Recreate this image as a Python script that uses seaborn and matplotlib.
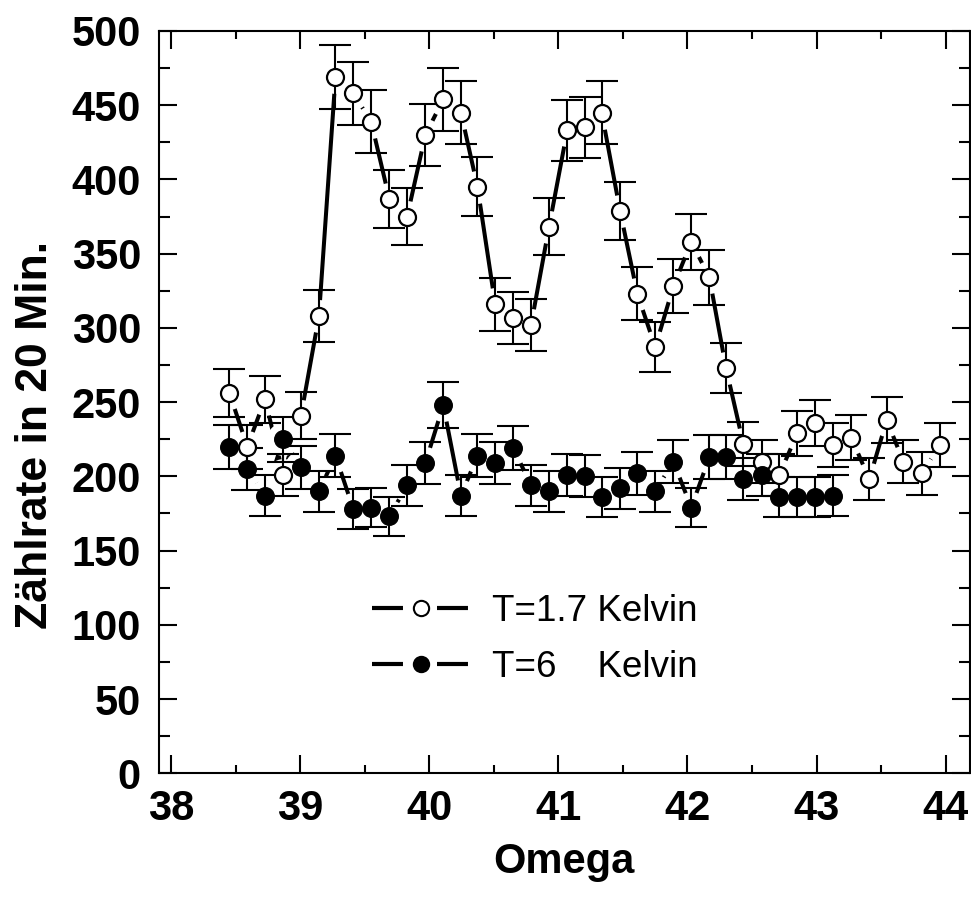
import numpy as np
import pandas as pd
import matplotlib
matplotlib.use("Agg")
import matplotlib.pyplot as plt
from matplotlib.lines import Line2D
from matplotlib.ticker import MultipleLocator
import seaborn as sns

# ---- data ----
omega = [38.453, 38.591, 38.728, 38.870, 39.007, 39.146, 39.274, 39.412, 39.550,
         39.691, 39.829, 39.970, 40.109, 40.246, 40.374, 40.511, 40.651, 40.789,
         40.928, 41.069, 41.207, 41.336, 41.478, 41.612, 41.751, 41.891, 42.030,
         42.170, 42.299, 42.433, 42.576, 42.712, 42.851, 42.991, 43.130, 43.270,
         43.409, 43.544, 43.672, 43.815, 43.957]

counts_17K = [256, 220, 252, 201, 241, 308, 469, 458, 439, 387, 375, 430, 454,
              445, 395, 316, 307, 302, 368, 433, 435, 445, 379, 323, 287, 328,
              358, 334, 273, 222, 210, 201, 229, 236, 221, 226, 198, 238, 210,
              202, 221]

counts_6K = [220, 205, 187, 225, 206, 190, 214, 178, 179, 173, 194, 209, 248,
             187, 214, 209, 219, 194, 190, 201, 200, 186, 192, 202, 190, 210,
             179, 213, 213, 198, 201, 186, 186, 186, 187]

labels = ["T=1.7 Kelvin", "T=6    Kelvin"]
xticks = [38, 39, 40, 41, 42, 43, 44]

# ---- style ----
sns.set_theme(style="ticks")
plt.rcParams["font.family"] = ["Liberation Sans", "DejaVu Sans"]
plt.rcParams["font.weight"] = "bold"
plt.rcParams["text.color"] = "black"
plt.rcParams["lines.scale_dashes"] = False

df1 = pd.DataFrame({"Omega": omega[:len(counts_17K)], "Rate": counts_17K})
df2 = pd.DataFrame({"Omega": omega[:len(counts_6K)], "Rate": counts_6K})
df_all = pd.concat([df1, df2], ignore_index=True)

fig = plt.figure(figsize=(9.71, 9.01), dpi=100)
ax = fig.add_axes([159 / 971, 1 - 773.3 / 901, (969.5 - 159) / 971, (773.3 - 31) / 901])

# connecting lines
for df in (df1, df2):
    sns.lineplot(data=df, x="Omega", y="Rate", color="black", lw=2.9, ax=ax,
                 estimator=None, sort=False, zorder=2)
# white halos create the gap between line and symbol
sns.scatterplot(data=df_all, x="Omega", y="Rate", color="white", s=560,
                linewidth=0, ax=ax, zorder=3, legend=False)
# error bars (counting statistics)
for df in (df1, df2):
    ax.errorbar(df["Omega"], df["Rate"], yerr=np.sqrt(df["Rate"]), fmt="none",
                ecolor="black", elinewidth=1.5, capsize=11.5, capthick=1.5, zorder=4)
# symbols
sns.scatterplot(data=df1, x="Omega", y="Rate", color="white", edgecolor="black",
                s=150, linewidth=1.6, ax=ax, zorder=5, legend=False)
sns.scatterplot(data=df2, x="Omega", y="Rate", color="black", edgecolor="black",
                s=160, linewidth=1.0, ax=ax, zorder=6, legend=False)

ax.set_xlim(37.907, 44.185)
ax.set_ylim(0, 500)
ax.set_xticks(xticks)
ax.xaxis.set_minor_locator(MultipleLocator(0.5))
ax.yaxis.set_major_locator(MultipleLocator(50))
ax.yaxis.set_minor_locator(MultipleLocator(25))
ax.tick_params(which="both", direction="in", top=True, right=True, width=1.5,
               color="black")
ax.tick_params(which="major", length=13, labelsize=30, labelcolor="black")
ax.tick_params(axis="x", which="major", pad=11)
ax.tick_params(axis="y", which="major", pad=13)
ax.tick_params(axis="x", which="minor", length=6)
ax.tick_params(axis="y", which="minor", length=8)
for sp in ax.spines.values():
    sp.set_linewidth(1.5)
    sp.set_color("black")

ax.set_xlabel("Omega", fontsize=30, fontweight="bold", color="black", labelpad=10)
ax.set_ylabel("Zählrate in 20 Min.", fontsize=32, fontweight="bold", color="black")
ax.yaxis.set_label_coords(-0.127, 0.456)

handles = [
    Line2D([], [], color="black", lw=3.0, dashes=(22.3, 24.5), marker="o", ms=11,
           mfc="white", mec="black", mew=1.5),
    Line2D([], [], color="black", lw=3.0, dashes=(22.3, 24.5), marker="o", ms=11,
           mfc="black", mec="black", mew=1.5),
]
ax.legend(handles, labels, loc="center left", bbox_to_anchor=(372 / 971, 1 - 639.5 / 901),
          bbox_transform=fig.transFigure, frameon=False, borderpad=0, borderaxespad=0,
          handlelength=2.66, handletextpad=0.6, labelspacing=0.56, labelcolor="black",
          prop={"family": "Liberation Sans", "weight": "normal", "size": 26.5})

fig.savefig("out.png", dpi=100)
